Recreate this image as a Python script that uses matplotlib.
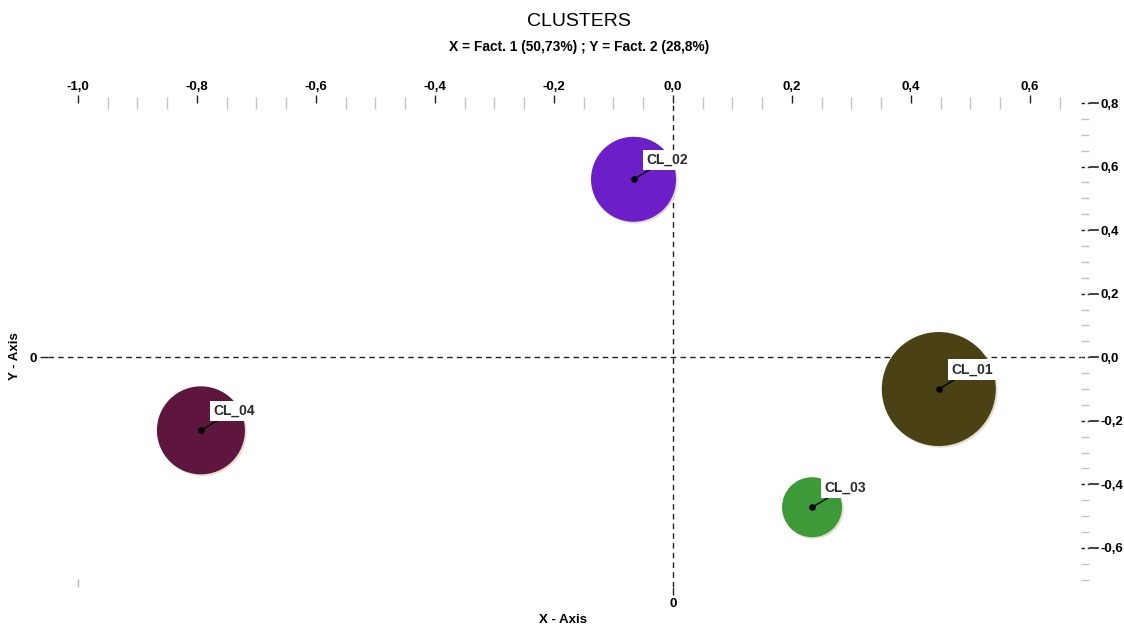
import numpy as np
import matplotlib.pyplot as plt
from matplotlib.ticker import FixedLocator, FuncFormatter
import matplotlib.transforms as mtransforms
import matplotlib.patheffects as pe

plt.rcParams['font.family'] = ['Liberation Sans', 'DejaVu Sans']

# datos de los clusters (Fact. 1 / Fact. 2)
clusters = ['CL_01', 'CL_02', 'CL_03', 'CL_04']
fact1 = [0.447, -0.066, 0.234, -0.793]
fact2 = [-0.100, 0.560, -0.472, -0.230]
peso = [57, 42.5, 30, 44]          # radio del circulo (px)
colores = ['#4a4214', '#6c1fc9', '#3c9a38', '#5f163e']

x_mayores = [-1.0, -0.8, -0.6, -0.4, -0.2, 0.0, 0.2, 0.4, 0.6]
y_mayores = [-0.6, -0.4, -0.2, 0.0, 0.2, 0.4, 0.6, 0.8]

titulo = 'CLUSTERS'
subtitulo = 'X = Fact. 1 (50,73%) ; Y = Fact. 2 (28,8%)'

fig = plt.figure(figsize=(11.24, 6.26), dpi=100)
ax = fig.add_axes([48 / 1124, 1 - 587 / 626, (1081 - 48) / 1124, (587 - 103) / 626])
ax.set_xlim(-1.050, 0.686)
ax.set_ylim(-0.723, 0.800)
for s in ax.spines.values():
    s.set_visible(False)

# lineas de referencia
ax.axhline(0, color='#222222', lw=1, ls=(0, (4, 3)), zorder=1)
ax.axvline(0, color='#222222', lw=1, ls=(0, (4, 3)), zorder=1)

# circulos con sombra suave
tam = [(2 * r * 0.72) ** 2 for r in peso]
ax.scatter(fact1, fact2, s=tam, c=colores, edgecolors='none', zorder=2,
           path_effects=[pe.SimplePatchShadow(offset=(1.2, -1.2), shadow_rgbFace='#e8dccd',
                                              alpha=1.0), pe.Normal()])
ax.scatter(fact1, fact2, s=14, c='black', zorder=4)
for nombre, x, y in zip(clusters, fact1, fact2):
    ax.annotate(nombre, xy=(x, y), xytext=(9, 9), textcoords='offset points',
                ha='left', va='bottom', fontsize=10, fontweight='bold', color='#2a2a2a',
                zorder=3,
                bbox=dict(boxstyle='square,pad=0.22', fc='white', ec='none'),
                arrowprops=dict(arrowstyle='-', color='black', lw=1, shrinkA=0, shrinkB=0))

fmt = FuncFormatter(lambda v, p: ('%.1f' % v).replace('.', ',').replace('-0,0', '0,0'))

# ejes principales: solo el 0
ax.xaxis.set_major_locator(FixedLocator([0]))
ax.yaxis.set_major_locator(FixedLocator([0]))
ax.xaxis.set_minor_locator(FixedLocator([-1.0]))
ax.yaxis.set_minor_locator(FixedLocator([]))
ax.tick_params(which='major', direction='out', length=6, width=1, color='#222222',
               labelsize=9.5, pad=2)
ax.tick_params(axis='x', which='minor', direction='in', length=6, width=1, color='#bbbbbb')
for lb in ax.get_xticklabels() + ax.get_yticklabels():
    lb.set_fontweight('bold')

# eje superior
top = ax.secondary_xaxis('top')
top.spines['top'].set_visible(False)
top.xaxis.set_major_locator(FixedLocator(x_mayores))
top.xaxis.set_minor_locator(FixedLocator([v for v in np.arange(-0.95, 0.66, 0.05)
                                          if abs(round(v / 0.2) * 0.2 - v) > 0.01]))
top.xaxis.set_major_formatter(fmt)
top.tick_params(which='major', direction='out', length=6, width=1, color='#222222',
                labelsize=9.5, pad=1)
top.tick_params(which='minor', direction='inout', length=8, width=1, color='#c4c4c4')
for lb in top.get_xticklabels():
    lb.set_fontweight('bold')

# eje derecho
der = ax.secondary_yaxis('right')
der.spines['right'].set_visible(False)
der.yaxis.set_major_locator(FixedLocator(y_mayores))
der.yaxis.set_minor_locator(FixedLocator([v for v in np.arange(-0.70, 0.79, 0.05)
                                          if abs(round(v / 0.2) * 0.2 - v) > 0.01]))
der.yaxis.set_major_formatter(fmt)
der.tick_params(which='major', direction='out', length=0, labelsize=9.5, pad=14)
der.tick_params(which='minor', direction='out', length=6, width=1, color='#c4c4c4')
for lb in der.get_yticklabels():
    lb.set_fontweight('bold')

trans = mtransforms.blended_transform_factory(ax.transAxes, ax.transData)
for v in y_mayores:
    ax.plot([1.0, 1.008], [v, v], transform=trans, color='#222222', lw=1,
            ls=(0, (2.5, 2)), clip_on=False)
    ax.plot([1.009, 1.016], [v, v], transform=trans, color='#222222', lw=1.2, clip_on=False)

fig.text(0.515, 1 - 22 / 626, titulo, ha='center', va='center', fontsize=14)
fig.text(0.515, 1 - 47 / 626, subtitulo, ha='center', va='center', fontsize=9.9,
         fontweight='bold')
fig.text(563 / 1124, 1 - 620 / 626, 'X - Axis', ha='center', va='center', fontsize=9.5,
         fontweight='bold')
fig.text(15 / 1124, 1 - 356 / 626, 'Y - Axis', ha='center', va='center', fontsize=9.5,
         fontweight='bold', rotation=90)

fig.savefig('out.png', dpi=100)
